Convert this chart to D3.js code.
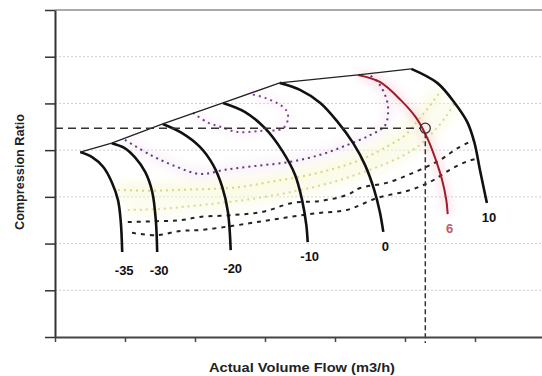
<!DOCTYPE html>
<html>
<head>
<meta charset="utf-8">
<script src="https://cdn.jsdelivr.net/npm/d3@7/dist/d3.min.js"></script>
<style>
  body { margin: 0; background: #fff; }
  svg { display: block; font-family: "Liberation Sans", Arial, sans-serif; }
</style>
</head>
<body>
<div id="chart"></div>
<script>
// temperature lines, each listed from the surge line downwards
const tempLabels = ["-35", "-30", "-20", "-10", "0", "6", "10"];
const tempCurves = [
  [[0.36,3.96],[0.53,3.85],[0.69,3.64],[0.81,3.32],[0.90,2.93],[0.94,2.46],[0.96,1.82]],
  [[0.81,4.15],[0.99,4.05],[1.14,3.85],[1.29,3.53],[1.39,3.10],[1.44,2.50],[1.46,1.82]],
  [[1.54,4.56],[1.81,4.37],[2.07,4.07],[2.26,3.68],[2.39,3.21],[2.47,2.68],[2.51,1.86]],
  [[2.40,5.01],[2.71,4.82],[3.00,4.47],[3.24,4.00],[3.43,3.47],[3.53,2.93],[3.59,2.40],[3.61,2.03]],
  [[3.21,5.44],[3.50,5.29],[3.79,5.01],[4.04,4.60],[4.26,4.15],[4.43,3.68],[4.56,3.15],[4.64,2.68],[4.69,2.25]],
  [[4.33,5.61],[4.64,5.46],[4.94,5.07],[5.16,4.69],[5.33,4.22],[5.44,3.79],[5.53,3.36],[5.59,2.93],[5.61,2.63]],
  [[5.09,5.74],[5.46,5.44],[5.71,5.01],[5.89,4.60],[5.99,4.17],[6.07,3.58],[6.13,3.15],[6.17,2.87]]
];
const highlightLabel = "6";

// efficiency contours
const purpleOuter = [[1.00,4.22],[1.36,3.90],[1.71,3.66],[2.07,3.49],[2.43,3.58],[2.86,3.66],[3.36,3.75],
  [3.79,3.90],[4.14,4.09],[4.50,4.32],[4.71,4.52],[4.76,4.82],[4.73,5.12],[4.61,5.46],[4.50,5.60]];
const purpleInner = [[1.97,4.80],[2.17,4.60],[2.36,4.50],[2.60,4.39],[2.93,4.41],[3.26,4.47],[3.33,4.69],
  [3.30,4.86],[3.19,4.99],[3.00,5.12],[2.79,5.20]];
const yellowInner = [[0.90,3.15],[1.36,3.13],[1.79,3.15],[2.21,3.17],[2.64,3.21],[3.07,3.32],[3.50,3.43],
  [3.93,3.58],[4.36,3.79],[4.71,4.05],[5.00,4.32],[5.19,4.65],[5.33,4.90],[5.50,5.24]];
const yellowOuter = [[1.04,2.72],[1.50,2.74],[1.93,2.80],[2.36,2.87],[2.79,2.95],[3.36,3.10],[3.93,3.30],
  [4.50,3.58],[4.93,3.85],[5.21,4.11],[5.43,4.43],[5.60,4.75],[5.71,5.01]];
const blackUpper = [[1.04,2.46],[1.46,2.48],[1.79,2.50],[2.07,2.57],[2.54,2.61],[2.97,2.68],[3.39,2.87],
  [3.79,2.91],[4.17,3.04],[4.36,3.19],[4.74,3.30],[5.14,3.53],[5.50,3.79],[5.76,4.05],[5.99,4.22]];
const blackLower = [[1.10,2.23],[1.46,2.18],[1.79,2.27],[2.07,2.29],[2.54,2.38],[2.97,2.48],[3.36,2.57],
  [3.74,2.65],[4.17,2.72],[4.61,2.98],[5.04,3.13],[5.36,3.32],[5.64,3.58],[5.87,3.75],[6.06,3.83]];

const operatingPoint = [5.29, 4.47];

const width = 542, height = 376;
const margin = { top: 10, right: -3, bottom: 39, left: 55 };

const svg = d3.select("#chart").append("svg")
  .attr("width", width)
  .attr("height", height);

const defs = svg.append("defs");
defs.append("filter").attr("id", "glow").attr("x", "-20%").attr("y", "-20%").attr("width", "140%").attr("height", "140%")
  .append("feGaussianBlur").attr("stdDeviation", 5);

const x = d3.scaleLinear().domain([0, 7]).range([margin.left, width - margin.right]);
const y = d3.scaleLinear().domain([0, 7]).range([height - margin.bottom, margin.top]);

const smooth = d3.line().x(d => x(d[0])).y(d => y(d[1])).curve(d3.curveCatmullRom.alpha(0.5));
const straight = d3.line().x(d => x(d[0])).y(d => y(d[1]));

// gridlines
svg.append("g")
  .selectAll("line")
  .data(d3.range(1, 7))
  .join("line")
  .attr("x1", x(0)).attr("x2", width)
  .attr("y1", d => y(d)).attr("y2", d => y(d))
  .attr("stroke", "#cfcfcf")
  .attr("stroke-dasharray", "2,2");

// faint colour haze behind the contours
const glows = svg.append("g").attr("filter", "url(#glow)");
glows.append("path").attr("d", smooth(yellowInner)).attr("fill", "none").attr("stroke", "#f7f7d6").attr("stroke-width", 18).attr("opacity", 0.55);
glows.append("path").attr("d", smooth(yellowOuter)).attr("fill", "none").attr("stroke", "#f8f8dc").attr("stroke-width", 14).attr("opacity", 0.45);
glows.append("path").attr("d", smooth(purpleOuter)).attr("fill", "none").attr("stroke", "#f5e0f2").attr("stroke-width", 10).attr("opacity", 0.45);
glows.append("path").attr("d", smooth(purpleInner)).attr("fill", "none").attr("stroke", "#f5e0f2").attr("stroke-width", 8).attr("opacity", 0.35);
glows.append("path").attr("d", smooth(tempCurves[tempLabels.indexOf(highlightLabel)]))
  .attr("fill", "none").attr("stroke", "#f6cdd6").attr("stroke-width", 8).attr("opacity", 0.6);

// efficiency contours
const contours = [
  { pts: yellowOuter, color: "#dcda8a", dash: "2,4", w: 2 },
  { pts: yellowInner, color: "#d8d684", dash: "2,4", w: 2 },
  { pts: blackUpper, color: "#222", dash: "4,5", w: 2 },
  { pts: blackLower, color: "#222", dash: "4,5", w: 2 },
  { pts: purpleOuter, color: "#5a3c80", dash: "2,4", w: 2 },
  { pts: purpleInner, color: "#7e4490", dash: "2,4", w: 2 }
];
svg.append("g")
  .selectAll("path")
  .data(contours)
  .join("path")
  .attr("d", d => smooth(d.pts))
  .attr("fill", "none")
  .attr("stroke", d => d.color)
  .attr("stroke-width", d => d.w)
  .attr("stroke-dasharray", d => d.dash);

// temperature lines
svg.append("g")
  .selectAll("path")
  .data(tempCurves)
  .join("path")
  .attr("d", d => smooth(d))
  .attr("fill", "none")
  .attr("stroke", (d, i) => tempLabels[i] === highlightLabel ? "#9c1c2c" : "#111")
  .attr("stroke-width", (d, i) => tempLabels[i] === highlightLabel ? 2 : 2.6);

// surge line through the tops of the temperature lines
svg.append("path")
  .attr("d", straight(tempCurves.map(c => c[0])))
  .attr("fill", "none")
  .attr("stroke", "#222")
  .attr("stroke-width", 1.3);

// operating point with dashed guides
svg.append("line")
  .attr("x1", x(0)).attr("x2", x(operatingPoint[0]) - 5)
  .attr("y1", y(operatingPoint[1])).attr("y2", y(operatingPoint[1]))
  .attr("stroke", "#333").attr("stroke-width", 1.5).attr("stroke-dasharray", "8,5");
svg.append("line")
  .attr("x1", x(operatingPoint[0])).attr("x2", x(operatingPoint[0]))
  .attr("y1", y(operatingPoint[1]) + 5).attr("y2", y(0) + 6)
  .attr("stroke", "#333").attr("stroke-width", 1.5).attr("stroke-dasharray", "5,3");
svg.append("circle")
  .attr("cx", x(operatingPoint[0])).attr("cy", y(operatingPoint[1]))
  .attr("r", 5)
  .attr("fill", "none").attr("stroke", "#333").attr("stroke-width", 1.3);

// labels at the bottom of each temperature line
svg.append("g")
  .selectAll("text")
  .data(tempCurves)
  .join("text")
  .attr("x", d => x(d[d.length - 1][0]) + 2)
  .attr("y", (d, i) => y(d[d.length - 1][1]) + (i < 3 ? 23 : 19))
  .attr("text-anchor", "middle")
  .attr("font-size", 13)
  .attr("font-weight", "bold")
  .attr("fill", (d, i) => tempLabels[i] === highlightLabel ? "#c05a68" : "#111")
  .text((d, i) => tempLabels[i]);

// frame and axes
svg.append("line")
  .attr("x1", x(0)).attr("x2", width)
  .attr("y1", y(7)).attr("y2", y(7))
  .attr("stroke", "#aaa").attr("stroke-width", 2);

const yAxis = svg.append("g")
  .attr("transform", `translate(${x(0)},0)`)
  .call(d3.axisLeft(y).ticks(7).tickSize(10).tickSizeOuter(0).tickFormat(""));
yAxis.select(".domain").attr("stroke", "#333").attr("stroke-width", 2);
yAxis.selectAll(".tick line").attr("stroke", "#333").attr("stroke-width", 1.5);

const xAxis = svg.append("g")
  .attr("transform", `translate(0,${y(0)})`)
  .call(d3.axisBottom(x).ticks(7).tickSize(5).tickSizeOuter(0).tickFormat(""));
xAxis.select(".domain").attr("stroke", "#444").attr("stroke-width", 2);
xAxis.selectAll(".tick line").attr("stroke", "#444").attr("stroke-width", 1.5);

svg.append("text")
  .attr("x", 302).attr("y", 372)
  .attr("text-anchor", "middle")
  .attr("font-size", 12)
  .attr("font-weight", "bold")
  .attr("fill", "#222")
  .attr("textLength", 186)
  .attr("lengthAdjust", "spacingAndGlyphs")
  .text("Actual Volume Flow (m3/h)");

svg.append("text")
  .attr("transform", "translate(24,172) rotate(-90)")
  .attr("text-anchor", "middle")
  .attr("font-size", 12)
  .attr("font-weight", "bold")
  .attr("fill", "#222")
  .attr("textLength", 116)
  .attr("lengthAdjust", "spacingAndGlyphs")
  .text("Compression Ratio");
</script>
</body>
</html>
